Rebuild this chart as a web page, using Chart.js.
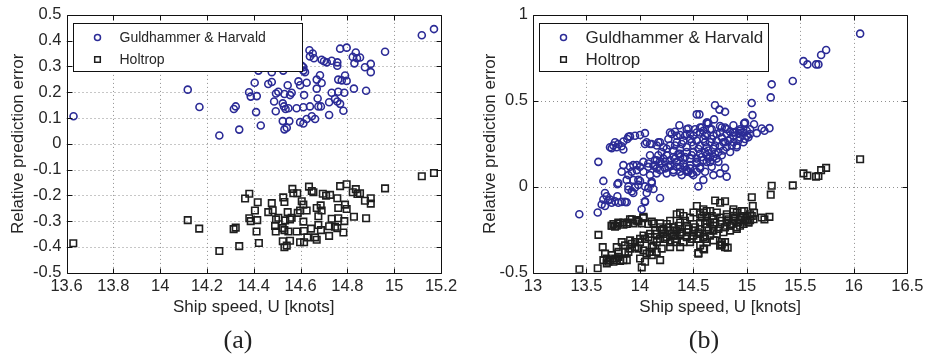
<!DOCTYPE html>
<html lang="en">
<head>
<meta charset="UTF-8">
<title>Relative prediction error vs ship speed</title>
<script src="https://cdn.jsdelivr.net/npm/chart.js"></script>
<style>
    body {
        margin: 0;
        background: #ffffff;
        width: 929px;
        height: 360px;
        position: relative;
        overflow: hidden;
        font-family: "Liberation Sans", Arial, sans-serif;
    }
    canvas { position: absolute; top: 0; }
    #chartA { left: 0; }
    #chartB { left: 470px; }
    .sub {
        position: absolute;
        top: 325px;
        font-family: "Liberation Serif", "DejaVu Serif", serif;
        font-size: 26px;
        line-height: 30px;
        color: #222;
        transform: translateX(-50%);
    }
</style>
</head>
<body>

<canvas id="chartA" width="465" height="330"></canvas>
<canvas id="chartB" width="459" height="330"></canvas>
<div class="sub" style="left:238px">(a)</div>
<div class="sub" style="left:704px">(b)</div>

<script>
    const seriesNames = ['Guldhammer & Harvald', 'Holtrop'];
    const axisTitles = ['Ship speed, U [knots]', 'Relative prediction error'];

    // axis ranges: [min, max, step]
    const xRangeA = [13.6, 15.2, 0.2];
    const yRangeA = [-0.5, 0.5, 0.1];
    const xRangeB = [13, 16.5, 0.5];
    const yRangeB = [-0.5, 1, 0.5];

    // (a) Guldhammer & Harvald
    const ghSpeedA = [13.63, 14.118, 14.168, 14.253, 14.315, 14.323, 14.338, 14.380, 14.387, 14.413,
        14.404, 14.477, 14.462, 14.410, 14.430, 14.487, 14.494, 14.495, 14.505, 14.524,
        14.529, 14.536, 14.548, 14.531, 14.545, 14.555, 14.562, 14.583, 14.591, 14.598,
        14.615, 14.626, 14.612, 14.640, 14.598, 14.612, 14.626, 14.648, 14.662, 14.524,
        14.531, 14.541, 14.552, 14.673, 14.676, 14.687, 14.669, 14.669, 14.683, 14.690,
        14.722, 14.722, 14.733, 14.747, 14.757, 14.761, 14.769, 14.787, 14.783, 14.790,
        14.761, 14.776, 14.797, 14.828, 14.880, 14.875, 14.900, 14.900, 14.830, 14.836,
        14.854, 14.823, 14.841, 14.797, 14.769, 14.757, 14.757, 14.733, 14.712, 14.690,
        14.700, 14.657, 14.640, 14.638, 14.652, 14.612, 14.619, 14.612, 14.605, 14.961,
        15.118, 15.170, 14.477, 14.420, 14.526];
    const ghErrA = [0.107, 0.210, 0.143, 0.032, 0.135, 0.145, 0.055, 0.200, 0.183, 0.185,
        0.237, 0.240, 0.232, 0.123, 0.071, 0.164, 0.126, 0.195, 0.202, 0.157,
        0.145, 0.135, 0.138, 0.193, 0.227, 0.189, 0.198, 0.138, 0.242, 0.227,
        0.189, 0.237, 0.142, 0.145, 0.084, 0.079, 0.096, 0.107, 0.096, 0.088,
        0.056, 0.062, 0.088, 0.176, 0.145, 0.145, 0.214, 0.249, 0.266, 0.236,
        0.112, 0.161, 0.198, 0.174, 0.164, 0.202, 0.155, 0.198, 0.128, 0.265,
        0.249, 0.246, 0.244, 0.214, 0.206, 0.297, 0.310, 0.278, 0.312, 0.354,
        0.335, 0.337, 0.332, 0.373, 0.369, 0.316, 0.303, 0.322, 0.316, 0.326,
        0.320, 0.332, 0.339, 0.363, 0.350, 0.297, 0.278, 0.284, 0.303, 0.357,
        0.421, 0.445, 0.278, 0.284, 0.284];

    // (a) Holtrop
    const hoSpeedA = [13.629, 14.118, 14.167, 14.253, 14.314, 14.323, 14.338, 14.363, 14.381, 14.405,
        14.381, 14.387, 14.415, 14.412, 14.422, 14.417, 14.462, 14.477, 14.481, 14.491,
        14.495, 14.505, 14.494, 14.526, 14.531, 14.534, 14.524, 14.531, 14.545, 14.548,
        14.555, 14.562, 14.565, 14.569, 14.586, 14.583, 14.588, 14.598, 14.605, 14.612,
        14.612, 14.626, 14.615, 14.524, 14.531, 14.541, 14.555, 14.598, 14.615, 14.629,
        14.645, 14.662, 14.669, 14.636, 14.648, 14.655, 14.669, 14.676, 14.686, 14.690,
        14.676, 14.687, 14.695, 14.709, 14.726, 14.722, 14.722, 14.733, 14.747, 14.757,
        14.761, 14.769, 14.757, 14.761, 14.787, 14.783, 14.790, 14.797, 14.797, 14.828,
        14.823, 14.836, 14.843, 14.854, 14.875, 14.880, 14.900, 14.900, 14.961, 15.118,
        15.170];
    const hoErrA = [-0.386, -0.296, -0.329, -0.416, -0.331, -0.325, -0.397, -0.212, -0.194, -0.259,
        -0.289, -0.300, -0.296, -0.340, -0.385, -0.227, -0.265, -0.230, -0.258, -0.319,
        -0.293, -0.287, -0.340, -0.208, -0.226, -0.297, -0.327, -0.335, -0.265, -0.340,
        -0.293, -0.287, -0.175, -0.192, -0.192, -0.340, -0.268, -0.259, -0.223, -0.236,
        -0.302, -0.259, -0.338, -0.378, -0.401, -0.395, -0.376, -0.382, -0.382, -0.363,
        -0.329, -0.363, -0.372, -0.166, -0.183, -0.188, -0.249, -0.281, -0.239, -0.259,
        -0.315, -0.335, -0.194, -0.201, -0.198, -0.357, -0.320, -0.291, -0.322, -0.327,
        -0.249, -0.164, -0.211, -0.289, -0.300, -0.344, -0.236, -0.253, -0.157, -0.283,
        -0.188, -0.176, -0.195, -0.192, -0.221, -0.289, -0.211, -0.232, -0.173, -0.126,
        -0.113];

    // (b) Guldhammer & Harvald
    const ghSpeedB = [16.059, 15.529, 15.566, 15.647, 15.669, 15.694, 15.741, 15.232, 15.429, 15.223,
        15.045, 15.052, 14.702, 14.743, 14.796, 14.631, 14.693, 14.983, 15.067, 15.139,
        15.164, 15.211, 15.014, 15.030, 14.874, 14.936, 14.967, 14.531, 14.556, 14.640,
        14.369, 14.453, 14.578, 14.656, 14.749, 14.796, 14.874, 14.974, 14.297, 14.375,
        14.469, 14.531, 14.609, 14.718, 14.843, 14.921, 14.999, 15.092, 14.047, 14.001,
        13.954, 13.907, 13.882, 13.845, 13.798, 13.751, 13.736, 13.782, 13.845, 13.767,
        14.094, 14.047, 14.188, 13.720, 13.829, 13.892, 14.063, 14.110, 14.172, 14.281,
        14.437, 14.562, 14.624, 14.281, 14.344, 14.406, 14.469, 14.531, 14.593, 14.656,
        14.718, 14.780, 14.843, 14.905, 14.967, 14.313, 14.375, 14.437, 14.500, 14.562,
        14.624, 14.687, 14.749, 14.811, 14.905, 14.250, 14.313, 14.375, 14.437, 14.500,
        14.562, 14.624, 14.687, 14.765, 14.094, 14.157, 14.203, 14.266, 14.313, 14.375,
        14.437, 14.188, 14.141, 14.079, 14.032, 14.001, 13.938, 13.970, 14.032, 14.094,
        14.157, 14.250, 13.923, 13.892, 13.829, 13.876, 13.938, 13.985, 13.892, 13.923,
        13.985, 14.079, 14.110, 14.126, 14.063, 14.188, 14.047, 14.016, 13.798, 13.658,
        13.611, 14.531, 14.562, 14.593, 14.546, 14.749, 14.796, 14.811, 14.453, 14.469,
        14.624, 14.656, 14.344, 14.437, 14.500, 14.562, 14.624, 14.687, 14.749, 14.811,
        14.874, 14.936, 14.999, 15.030, 14.406, 14.469, 14.531, 14.593, 14.656, 14.718,
        14.344, 14.281, 14.219, 14.203, 14.250, 14.843, 14.874, 14.936, 14.811, 14.344,
        14.406, 14.469, 14.375, 13.433, 13.605, 13.673, 13.689, 13.658, 13.642, 13.673,
        13.704, 13.736, 13.767, 13.798, 13.829, 13.860, 13.876, 13.720, 13.789, 13.789,
        13.892, 13.938, 13.954, 14.001, 14.047, 14.110, 14.047, 13.845, 13.907, 13.970,
        14.078, 14.126, 14.157, 14.188, 14.235, 14.282, 14.313, 14.375, 14.437, 14.484,
        14.531, 14.562, 14.266, 14.328, 14.391, 14.422, 14.484, 14.515, 14.546, 14.609,
        14.640, 14.671, 14.702, 14.734, 14.765, 14.796, 14.827, 14.858, 14.890, 14.952,
        14.983, 14.921, 14.328, 14.359, 14.422, 14.484, 14.531, 14.578, 14.609, 14.640,
        14.702, 14.734, 14.780, 14.281, 14.328, 14.235, 14.172, 14.141, 14.422, 14.391,
        14.500, 14.609, 14.671, 14.687, 14.219, 14.157, 14.593, 14.671, 14.765];
    const ghErrB = [0.891, 0.731, 0.712, 0.712, 0.712, 0.767, 0.796, 0.596, 0.615, 0.520,
        0.487, 0.417, 0.474, 0.449, 0.436, 0.373, 0.392, 0.373, 0.364, 0.339,
        0.326, 0.341, 0.288, 0.307, 0.316, 0.326, 0.316, 0.421, 0.421, 0.369,
        0.358, 0.339, 0.345, 0.335, 0.354, 0.345, 0.358, 0.369, 0.307, 0.301,
        0.307, 0.316, 0.297, 0.307, 0.320, 0.312, 0.326, 0.312, 0.312, 0.301,
        0.297, 0.293, 0.278, 0.263, 0.249, 0.240, 0.225, 0.230, 0.217, 0.259,
        0.249, 0.249, 0.259, 0.230, 0.236, 0.291, 0.259, 0.249, 0.259, 0.316,
        0.335, 0.345, 0.373, 0.240, 0.259, 0.268, 0.278, 0.268, 0.278, 0.259,
        0.268, 0.259, 0.278, 0.240, 0.259, 0.211, 0.221, 0.230, 0.240, 0.240,
        0.230, 0.221, 0.236, 0.230, 0.230, 0.183, 0.173, 0.192, 0.202, 0.202,
        0.192, 0.183, 0.173, 0.183, 0.183, 0.154, 0.135, 0.116, 0.097, 0.087,
        0.097, 0.097, 0.126, 0.116, 0.145, 0.116, 0.126, 0.097, 0.087, 0.068,
        0.078, 0.078, 0.087, 0.068, 0.087, 0.040, 0.040, 0.040, 0.002, -0.027,
        0.011, -0.008, 0.030, -0.013, -0.036, -0.065, -0.084, -0.131, 0.021, 0.034,
        0.145, 0.087, 0.116, 0.040, 0.002, 0.078, 0.110, 0.059, 0.087, 0.126,
        0.145, 0.173, 0.297, 0.307, 0.297, 0.316, 0.307, 0.297, 0.316, 0.307,
        0.297, 0.287, 0.297, 0.335, 0.164, 0.164, 0.164, 0.154, 0.145, 0.164,
        0.145, 0.154, 0.164, 0.202, 0.221, 0.202, 0.259, 0.335, 0.335, 0.116,
        0.135, 0.107, 0.173, -0.160, -0.150, -0.036, -0.055, -0.074, -0.103, -0.112,
        -0.080, -0.093, -0.084, -0.093, -0.088, -0.088, -0.090, -0.074, 0.015, -0.055,
        -0.017, -0.036, -0.004, 0.034, 0.002, 0.021, -0.088, 0.126, 0.116, 0.126,
        0.135, 0.122, 0.107, 0.148, 0.107, 0.126, 0.084, 0.116, 0.087, 0.078,
        0.145, 0.107, 0.278, 0.320, 0.249, 0.297, 0.259, 0.335, 0.221, 0.259,
        0.211, 0.278, 0.240, 0.202, 0.287, 0.259, 0.268, 0.240, 0.316, 0.316,
        0.278, 0.268, 0.240, 0.192, 0.173, 0.183, 0.135, 0.173, 0.202, 0.164,
        0.192, 0.145, 0.211, 0.126, 0.164, 0.145, 0.183, 0.154, 0.116, 0.068,
        0.068, 0.087, 0.116, 0.068, 0.230, 0.240, 0.326, 0.335, 0.345];

    // (b) Holtrop
    const hoSpeedB = [13.434, 13.605, 13.612, 13.652, 13.674, 13.690, 13.658, 13.721, 13.752, 13.783,
        13.814, 13.845, 13.877, 13.690, 13.768, 13.799, 13.783, 13.830, 13.861, 13.892,
        13.908, 13.923, 13.955, 13.986, 14.001, 14.033, 14.079, 14.033, 14.048, 14.017,
        14.089, 14.111, 14.189, 14.126, 14.158, 13.752, 13.799, 13.845, 13.892, 13.939,
        13.986, 14.033, 14.079, 14.126, 14.189, 13.924, 13.970, 14.033, 14.220, 14.282,
        14.313, 14.376, 14.438, 14.500, 14.563, 14.625, 14.687, 14.750, 14.812, 14.874,
        14.937, 14.999, 15.062, 14.188, 14.251, 14.313, 14.376, 14.438, 14.500, 14.563,
        14.625, 14.687, 14.750, 14.812, 14.874, 14.937, 14.999, 14.282, 14.344, 14.407,
        14.469, 14.532, 14.594, 14.656, 14.719, 14.781, 14.843, 14.906, 14.344, 14.407,
        14.500, 14.563, 14.532, 14.703, 14.750, 14.796, 14.874, 14.952, 15.046, 15.055,
        15.030, 14.765, 14.796, 14.750, 14.547, 14.600, 14.376, 14.282, 14.204, 14.157,
        14.111, 14.064, 14.001, 14.251, 14.376, 14.625, 14.719, 14.812, 14.906, 14.563,
        14.687, 14.438, 14.344, 14.500, 14.656, 14.843, 14.968, 14.157, 14.220, 16.059,
        15.529, 15.566, 15.647, 15.669, 15.694, 15.741, 15.232, 15.429, 15.223, 14.974,
        15.067, 15.139, 15.164, 15.211, 15.030, 15.014, 14.874, 14.905, 14.936, 14.843,
        14.749, 14.796, 14.821, 14.765, 14.609, 14.593, 14.624, 14.546, 14.593, 14.375,
        14.032, 13.907, 13.798, 13.736, 13.767, 14.204, 14.235, 14.266, 14.298, 14.329,
        14.360, 14.391, 14.422, 14.454, 14.485, 14.516, 14.547, 14.578, 14.609, 14.641,
        14.672, 14.703, 14.734, 14.765, 14.796, 14.828, 14.859, 14.890, 14.921, 14.952,
        14.984, 15.015, 15.046, 14.469, 14.594, 14.656, 14.282, 14.188, 14.142, 14.095,
        14.048, 14.001, 13.955, 13.908, 13.861, 13.799, 13.736, 13.705, 14.563, 14.625,
        14.687, 13.970, 13.845, 13.783, 13.736, 13.877, 14.017, 14.111];
    const hoErrB = [-0.480, -0.474, -0.280, -0.351, -0.389, -0.417, -0.427, -0.427, -0.436, -0.427,
        -0.431, -0.427, -0.427, -0.446, -0.417, -0.408, -0.351, -0.322, -0.341, -0.379,
        -0.312, -0.332, -0.322, -0.360, -0.303, -0.284, -0.293, -0.370, -0.436, -0.469,
        -0.379, -0.351, -0.427, -0.341, -0.322, -0.217, -0.213, -0.221, -0.208, -0.213,
        -0.202, -0.183, -0.217, -0.213, -0.213, -0.189, -0.194, -0.175, -0.274, -0.255,
        -0.236, -0.246, -0.227, -0.217, -0.208, -0.198, -0.189, -0.179, -0.175, -0.170,
        -0.179, -0.170, -0.189, -0.303, -0.293, -0.284, -0.274, -0.265, -0.255, -0.246,
        -0.236, -0.227, -0.217, -0.208, -0.198, -0.194, -0.198, -0.322, -0.322, -0.322,
        -0.322, -0.303, -0.293, -0.284, -0.274, -0.265, -0.255, -0.246, -0.160, -0.170,
        -0.150, -0.160, -0.112, -0.080, -0.093, -0.084, -0.131, -0.141, -0.061, -0.112,
        -0.160, -0.322, -0.351, -0.341, -0.385, -0.364, -0.351, -0.351, -0.360, -0.379,
        -0.398, -0.389, -0.417, -0.217, -0.208, -0.170, -0.150, -0.160, -0.150, -0.274,
        -0.255, -0.293, -0.255, -0.284, -0.208, -0.227, -0.217, -0.274, -0.246, 0.160,
        0.078, 0.065, 0.059, 0.063, 0.097, 0.110, 0.006, 0.008, -0.046, -0.141,
        -0.151, -0.179, -0.190, -0.175, -0.194, -0.208, -0.145, -0.236, -0.227, -0.227,
        -0.341, -0.322, -0.354, -0.335, -0.303, -0.131, -0.141, -0.389, -0.360, -0.151,
        -0.179, -0.189, -0.208, -0.227, -0.233, -0.255, -0.303, -0.236, -0.274, -0.303,
        -0.227, -0.265, -0.198, -0.246, -0.303, -0.236, -0.265, -0.179, -0.217, -0.255,
        -0.170, -0.208, -0.246, -0.198, -0.236, -0.189, -0.217, -0.179, -0.208, -0.170,
        -0.189, -0.208, -0.170, -0.179, -0.150, -0.141, -0.198, -0.236, -0.255, -0.274,
        -0.303, -0.322, -0.351, -0.360, -0.379, -0.379, -0.398, -0.436, -0.341, -0.322,
        -0.312, -0.198, -0.208, -0.227, -0.227, -0.217, -0.213, -0.202];

    const ghColor = '#2b2b96';
    const hoColor = '#1e1e1e';
    const textColor = '#262626';
    const fontFamily = '"Liberation Sans", Arial, sans-serif';

    const pts = (xs, ys) => xs.map((x, i) => ({ x: x, y: ys[i] }));
    const fmt = v => String(+Number(v).toFixed(2));

    // MATLAB-like box: dotted grid, inward ticks, boxed legend in the top-left corner
    const frame = {
        id: 'frame',
        beforeDatasetsDraw(chart) {
            const { ctx, chartArea: a, scales: { x, y } } = chart;
            ctx.save();
            ctx.strokeStyle = '#8f8f8f';
            ctx.lineWidth = 1;
            ctx.setLineDash([1, 3]);
            ctx.beginPath();
            x.ticks.forEach(t => {
                const px = Math.round(x.getPixelForValue(t.value)) + 0.5;
                if (px > a.left + 2 && px < a.right - 2) { ctx.moveTo(px, a.top); ctx.lineTo(px, a.bottom); }
            });
            y.ticks.forEach(t => {
                const py = Math.round(y.getPixelForValue(t.value)) + 0.5;
                if (py > a.top + 2 && py < a.bottom - 2) { ctx.moveTo(a.left, py); ctx.lineTo(a.right, py); }
            });
            ctx.stroke();
            ctx.restore();
        },
        afterDraw(chart, args, opts) {
            const { ctx, chartArea: a, scales: { x, y } } = chart;
            const L = Math.round(a.left) + 0.5, R = Math.round(a.right) + 0.5;
            const T = Math.round(a.top) + 0.5, B = Math.round(a.bottom) + 0.5;
            const tl = 5;
            ctx.save();
            ctx.strokeStyle = '#111';
            ctx.lineWidth = 1;
            ctx.beginPath();
            ctx.rect(L, T, R - L, B - T);
            x.ticks.forEach(t => {
                const px = Math.round(x.getPixelForValue(t.value)) + 0.5;
                ctx.moveTo(px, B); ctx.lineTo(px, B - tl);
                ctx.moveTo(px, T); ctx.lineTo(px, T + tl);
            });
            y.ticks.forEach(t => {
                const py = Math.round(y.getPixelForValue(t.value)) + 0.5;
                ctx.moveTo(L, py); ctx.lineTo(L + tl, py);
                ctx.moveTo(R, py); ctx.lineTo(R - tl, py);
            });
            ctx.stroke();

            // legend
            const bx = L + 6, by = T + 8, bw = 229, bh = 48;
            ctx.fillStyle = '#fff';
            ctx.fillRect(bx, by, bw, bh);
            ctx.strokeRect(bx, by, bw, bh);
            ctx.font = opts.fontSize + 'px ' + fontFamily;
            ctx.textBaseline = 'middle';
            chart.data.datasets.forEach((ds, i) => {
                const cx = L + 30, cy = by + 14 + i * 22;
                ctx.strokeStyle = ds.borderColor;
                ctx.lineWidth = 1.5;
                ctx.beginPath();
                if (ds.pointStyle === 'rect') ctx.rect(cx - 2.8, cy - 2.8, 5.6, 5.6);
                else ctx.arc(cx, cy, 3, 0, Math.PI * 2);
                ctx.stroke();
                ctx.fillStyle = textColor;
                ctx.fillText(ds.label, L + 52, cy + 1);
            });
            ctx.restore();
        }
    };

    function makeChart(id, gx, gy, hx, hy, xr, yr, pad, yWidth, legendSize) {
        return new Chart(document.getElementById(id), {
            type: 'scatter',
            data: {
                datasets: [
                    {
                        label: seriesNames[0],
                        data: pts(gx, gy),
                        pointStyle: 'circle',
                        pointRadius: 3.5,
                        borderWidth: 1.6,
                        borderColor: ghColor,
                        backgroundColor: 'rgba(0,0,0,0)'
                    },
                    {
                        label: seriesNames[1],
                        data: pts(hx, hy),
                        pointStyle: 'rect',
                        pointRadius: 4.6,
                        borderWidth: 1.6,
                        borderColor: hoColor,
                        backgroundColor: 'rgba(0,0,0,0)'
                    }
                ]
            },
            options: {
                responsive: false,
                animation: false,
                devicePixelRatio: 1,
                layout: { padding: pad },
                plugins: {
                    legend: { display: false },
                    tooltip: { enabled: false },
                    frame: { fontSize: legendSize }
                },
                scales: {
                    x: {
                        type: 'linear',
                        min: xr[0], max: xr[1],
                        ticks: { stepSize: xr[2], callback: fmt, padding: 4, color: textColor, font: { family: fontFamily, size: 16.5 }, maxRotation: 0 },
                        grid: { display: false, drawTicks: false },
                        border: { display: false },
                        title: { display: true, text: axisTitles[0], color: textColor, padding: 0, font: { family: fontFamily, size: 17 } },
                        afterFit: s => { s.height = 44.5; }
                    },
                    y: {
                        type: 'linear',
                        min: yr[0], max: yr[1],
                        ticks: { stepSize: yr[2], callback: fmt, padding: 5, color: textColor, font: { family: fontFamily, size: 16.5 } },
                        grid: { display: false, drawTicks: false },
                        border: { display: false },
                        title: { display: true, text: axisTitles[1], color: textColor, padding: 0, font: { family: fontFamily, size: 17 } },
                        afterFit: s => { s.width = yWidth; }
                    }
                }
            },
            plugins: [frame]
        });
    }

    makeChart('chartA', ghSpeedA, ghErrA, hoSpeedA, hoErrA, xRangeA, yRangeA,
        { left: 7.8, top: 10, right: 24, bottom: 12.8 }, 58.7, 14);
    makeChart('chartB', ghSpeedB, ghErrB, hoSpeedB, hoErrB, xRangeB, yRangeB,
        { left: 9.8, top: 10.3, right: 21.7, bottom: 12.8 }, 53.2, 17);
</script>

</body>
</html>
